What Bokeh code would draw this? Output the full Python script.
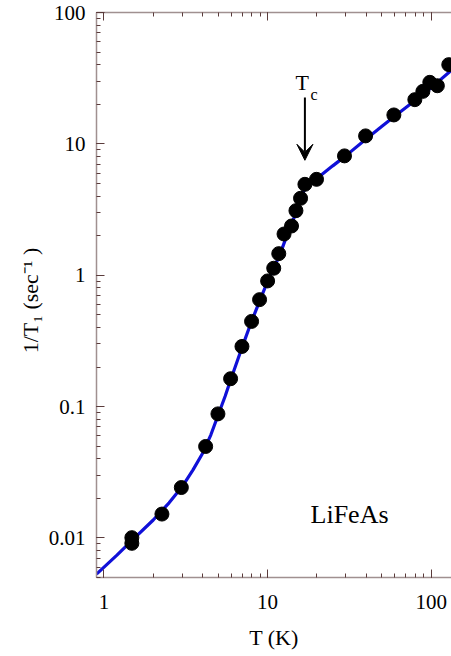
from bokeh.plotting import figure
from bokeh.models import (LogAxis, LogTicker, CustomJSTickFormatter, Arrow,
                          VeeHead, Label, Range1d)
from bokeh.embed import file_html
from bokeh.resources import INLINE

# measured 1/T1 data (T in K, rate in 1/sec)
T_data = [1.48, 1.48, 2.26, 2.97, 4.18, 4.97, 5.94, 6.97, 7.98, 8.93, 10.0,
          10.9, 11.7, 12.6, 14.0, 14.9, 15.9, 16.9, 19.9, 29.5, 39.7, 59.1,
          79.4, 88.9, 98.0, 109.0, 128.0]
rate_data = [0.01005, 0.0091, 0.0152, 0.0242, 0.0497, 0.088, 0.163, 0.287,
             0.445, 0.652, 0.905, 1.13, 1.46, 2.06, 2.37, 3.1, 3.85, 4.92,
             5.37, 8.1, 11.5, 16.6, 21.7, 25.1, 29.4, 27.7, 40.1]

# fitted curve
T_fit = [0.9, 1.2, 1.5, 2.0, 2.5, 3.0, 3.5, 4.0, 4.5, 5.0, 5.5, 6.0, 7.0, 8.0,
         9.0, 10.0, 11.0, 12.0, 13.0, 14.0, 15.0, 16.0, 17.0, 18.0, 20.0,
         25.0, 30.0, 40.0, 50.0, 60.0, 80.0, 100.0, 135.0]
rate_fit = [0.0053, 0.0074, 0.0097, 0.0137, 0.0185, 0.0245, 0.033, 0.044,
            0.061, 0.087, 0.12, 0.165, 0.285, 0.45, 0.65, 0.9, 1.16, 1.48,
            1.95, 2.45, 3.05, 3.75, 4.75, 5.0, 5.45, 6.8, 8.1, 10.9, 13.6,
            16.3, 21.5, 26.8, 37.0]

Tc = 16.9

FONT = "Liberation Serif"
AXIS_COL = "#a09090"
TICK_COL = "#5a3b3b"

p = figure(width=451, height=656, x_axis_type="log", y_axis_type="log",
           x_range=Range1d(0.9, 133), y_range=Range1d(0.005, 100),
           output_backend="svg", toolbar_location=None,
           min_border_left=96, min_border_right=0, min_border_top=12,
           min_border_bottom=79)
p.outline_line_color = None
p.grid.visible = False
p.background_fill_color = "white"

fmt = CustomJSTickFormatter(code="""
    if (tick >= 1) { return Math.round(tick).toString(); }
    return Number(tick.toPrecision(1)).toString();
""")

for ax in (p.xaxis[0], p.yaxis[0]):
    ax.formatter = fmt
    ax.ticker.num_minor_ticks = 10
    ax.axis_line_color = AXIS_COL
    ax.axis_line_width = 1.5
    ax.major_tick_line_color = TICK_COL
    ax.minor_tick_line_color = TICK_COL
    ax.major_tick_in = 8
    ax.major_tick_out = 0
    ax.minor_tick_in = 4
    ax.minor_tick_out = 0
    ax.major_label_text_font = FONT
    ax.major_label_text_font_size = "21px"
    ax.major_label_text_color = "black"
    ax.axis_label_text_font = FONT
    ax.axis_label_text_font_size = "22px"
    ax.axis_label_text_font_style = "normal"
    ax.axis_label_text_color = "black"

p.xaxis.axis_label = "T (K)"
p.xaxis.major_label_standoff = 17
p.xaxis.axis_label_standoff = 13
p.yaxis.axis_label = "1/T\u2081   (sec\u207b\u00b9 )"
p.yaxis.major_label_standoff = 11
p.yaxis.axis_label_standoff = 3

top = LogAxis(ticker=LogTicker(num_minor_ticks=10),
              major_label_text_font_size="1px", major_label_text_alpha=0,
              major_label_standoff=0,
              axis_line_color=AXIS_COL, axis_line_width=1.5,
              major_tick_line_color=TICK_COL, minor_tick_line_color=TICK_COL,
              major_tick_in=8, major_tick_out=0, minor_tick_in=4,
              minor_tick_out=0)
p.add_layout(top, "above")

p.line(T_fit, rate_fit, line_color="#1010d8", line_width=3.2)
p.scatter(T_data, rate_data, size=14, marker="circle", fill_color="black",
          line_color="black")

p.add_layout(Arrow(end=VeeHead(size=16, fill_color="black",
                               line_color="black"),
                   x_start=Tc, y_start=22.5, x_end=Tc, y_end=7.5,
                   line_color="black", line_width=2))
p.add_layout(Label(x=14.8, y=29.2, text="T", text_font=FONT,
                   text_font_size="22px", text_baseline="alphabetic",
                   text_color="black"))
p.add_layout(Label(x=18.3, y=23.7, text="c", text_font=FONT,
                   text_font_size="16px", text_baseline="alphabetic",
                   text_color="black"))
p.add_layout(Label(x=18.3, y=0.0152, text="LiFeAs", text_font=FONT,
                   text_font_size="26px", text_baseline="alphabetic",
                   text_color="black"))

open("out.html", "w").write(file_html(p, INLINE))
